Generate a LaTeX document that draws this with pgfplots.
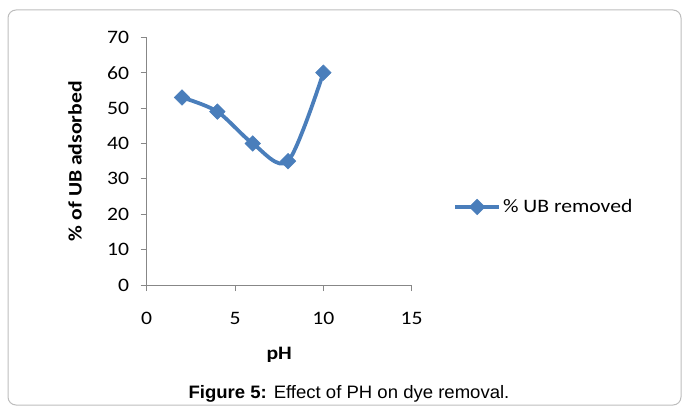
\documentclass[border=0pt]{standalone}
\usepackage{fontspec}
\setmainfont{Carlito}[FakeStretch=1.14]
\newfontfamily\arialfont{Liberation Sans}[FakeStretch=1.03]
\usepackage{pgfplots}
\pgfplotsset{compat=1.18}
\definecolor{xlblue}{HTML}{4A7EBB}
\definecolor{axgray}{HTML}{878787}
\definecolor{bordergray}{HTML}{BDBDBD}
\begin{document}
\begin{tikzpicture}[x=1pt,y=1pt]
\path (0,0) rectangle (683,-412);
\draw[color=bordergray, line width=1pt, rounded corners=8pt] (8,-10) rectangle (681,-405);
\begin{axis}[
  at={(146.7pt,-285pt)}, anchor=south west,
  scale only axis, width=265pt, height=247.7pt,
  xmin=0, xmax=15, ymin=0, ymax=70,
  enlargelimits=false, clip=false,
  axis lines=left,
  axis line style={axgray, line width=1pt, -},
  tick style={axgray, line width=1pt},
  major tick length=6pt, tick align=outside,
  xtick={0,5,10,15}, ytick={0,10,...,70},
  /pgf/number format/assume math mode=true,
  ticklabel style={font=\fontsize{19}{19}\selectfont, text=black},
  xticklabel style={yshift=-18pt},
  yticklabel style={xshift=-8pt},
  xlabel={\textbf{pH}},
  ylabel={\textbf{\% of UB adsorbed}},
  label style={font=\fontsize{19}{19}\selectfont},
  xlabel style={at={(axis description cs:0.5,-0.283)}, anchor=center},
  ylabel style={at={(axis description cs:-0.2706,0.5)}, anchor=center},
  legend style={at={(axis description cs:1.156,0.315)}, anchor=west, draw=none, fill=none,
    font=\fontsize{19}{19}\selectfont, inner sep=0pt, row sep=0pt,
    /tikz/every even column/.append style={column sep=0pt}},
  legend cell align=left,
  legend image code/.code={\draw[mark repeat=2,mark phase=2] plot coordinates {(0pt,0pt) (22pt,0pt) (44pt,0pt)};},
]
\addplot[color=xlblue, line width=3.8pt, smooth, mark=square*, mark size=5.5pt,
  mark options={rotate=45, solid, fill=xlblue, line width=0.5pt}]
  coordinates {(2,53) (4,49) (6,40) (8,35) (10,60)};
\addlegendentry{\% UB removed}
\end{axis}
\node[font=\arialfont\fontsize{18}{18}\selectfont] at (349,-393.5) {\textbf{Figure 5:} Effect of PH on dye removal.};
\end{tikzpicture}
\end{document}
